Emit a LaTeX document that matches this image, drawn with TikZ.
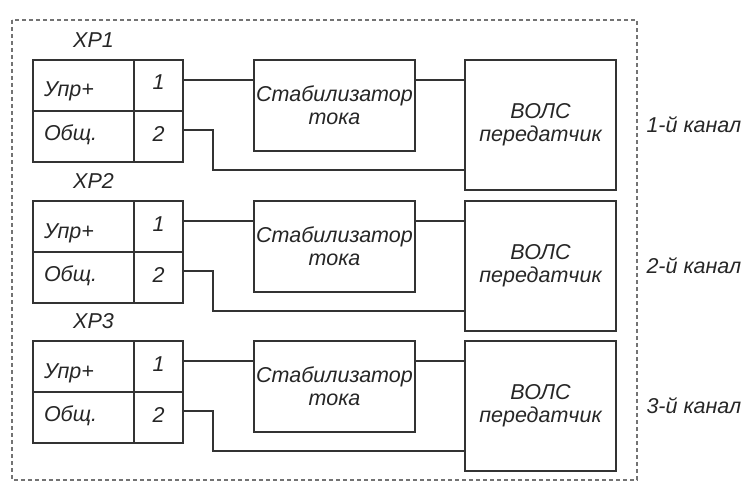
\documentclass[tikz,border=0pt]{standalone}
\usepackage{fontspec}
\setmainfont{Liberation Sans}
\usetikzlibrary{positioning}

\begin{document}
\begin{tikzpicture}[
    x=1pt, y=-1pt,
    every node/.style={font=\itshape\fontsize{21.5}{23}\selectfont, text=black!85},
    cell/.style={rectangle, draw=black!80, line width=1.5pt, outer sep=0pt, minimum height=51pt, text depth=5pt},
    sigcell/.style={cell, text width=79pt, align=left, inner xsep=11pt, text height=12pt},
    uprcell/.style={sigcell, text height=28pt},
    pincell/.style={cell, minimum width=49pt, inner sep=0pt, text height=14pt},
    stab/.style={rectangle, draw=black!80, line width=1.5pt, outer sep=0pt, inner xsep=0pt, minimum width=161pt, minimum height=91pt, align=center},
    vols/.style={rectangle, draw=black!80, line width=1.5pt, outer sep=0pt, inner xsep=0pt, minimum width=151pt, minimum height=130pt, align=center},
    wire/.style={-, line width=1.5pt, draw=black!80},
    frame/.style={draw=black!55, line width=1.6pt, dash pattern=on 4pt off 3pt}
]
    \useasboundingbox (0,0) rectangle (745,487);
    \draw[frame] (12,20) rectangle (637,480);

    % channel 1
    \node[uprcell] (upr1) at (83.5,85.5) {Упр+};
    \node[pincell, right=0pt of upr1] (p11) {1};
    \node[sigcell, below=0pt of upr1] (obs1) {Общ.};
    \node[pincell, below=0pt of p11] (p12) {2};
    \node[inner sep=0pt, above=12pt of upr1, xshift=10pt] (xp1) {XP1};
    \node[stab, right=71pt of p11.north east, anchor=north west] (stab1) {Стабилизатор\\тока};
    \node[vols, right=50pt of stab1.north east, anchor=north west] (vols1) {ВОЛС\\передатчик};
    \node[right=27pt of vols1] (ch1) {1-й канал};

    \draw[wire] ([yshift=5.5pt]p11.east) -- ([yshift=5.5pt]p11.east -| stab1.west);
    \draw[wire] ([yshift=5.5pt]p11.east -| stab1.east) -- ([yshift=5.5pt]p11.east -| vols1.west);
    \draw[wire] ([yshift=6.5pt]p12.east) -- ++(30pt,0) |- ([yshift=-45pt]vols1.west);

    % channel 2
    \node[uprcell] (upr2) at (83.5,226.5) {Упр+};
    \node[pincell, right=0pt of upr2] (p21) {1};
    \node[sigcell, below=0pt of upr2] (obs2) {Общ.};
    \node[pincell, below=0pt of p21] (p22) {2};
    \node[inner sep=0pt, above=12pt of upr2, xshift=10pt] (xp2) {XP2};
    \node[stab, right=71pt of p21.north east, anchor=north west] (stab2) {Стабилизатор\\тока};
    \node[vols, right=50pt of stab2.north east, anchor=north west] (vols2) {ВОЛС\\передатчик};
    \node[right=27pt of vols2] (ch2) {2-й канал};

    \draw[wire] ([yshift=5.5pt]p21.east) -- ([yshift=5.5pt]p21.east -| stab2.west);
    \draw[wire] ([yshift=5.5pt]p21.east -| stab2.east) -- ([yshift=5.5pt]p21.east -| vols2.west);
    \draw[wire] ([yshift=6.5pt]p22.east) -- ++(30pt,0) |- ([yshift=-45pt]vols2.west);

    % channel 3
    \node[uprcell] (upr3) at (83.5,366.5) {Упр+};
    \node[pincell, right=0pt of upr3] (p31) {1};
    \node[sigcell, below=0pt of upr3] (obs3) {Общ.};
    \node[pincell, below=0pt of p31] (p32) {2};
    \node[inner sep=0pt, above=12pt of upr3, xshift=10pt] (xp3) {XP3};
    \node[stab, right=71pt of p31.north east, anchor=north west] (stab3) {Стабилизатор\\тока};
    \node[vols, right=50pt of stab3.north east, anchor=north west] (vols3) {ВОЛС\\передатчик};
    \node[right=27pt of vols3] (ch3) {3-й канал};

    \draw[wire] ([yshift=5.5pt]p31.east) -- ([yshift=5.5pt]p31.east -| stab3.west);
    \draw[wire] ([yshift=5.5pt]p31.east -| stab3.east) -- ([yshift=5.5pt]p31.east -| vols3.west);
    \draw[wire] ([yshift=6.5pt]p32.east) -- ++(30pt,0) |- ([yshift=-45pt]vols3.west);
\end{tikzpicture}
\end{document}
